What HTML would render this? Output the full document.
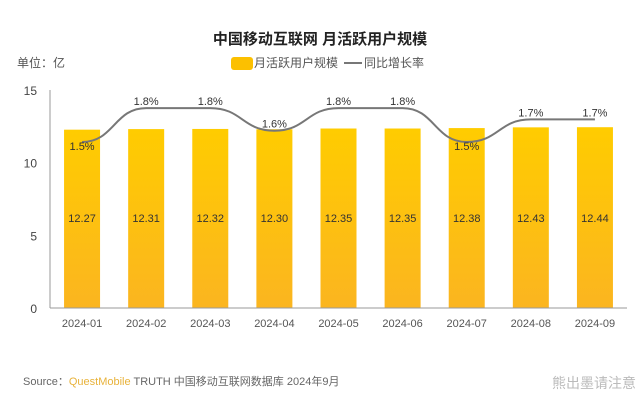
<!DOCTYPE html>
<html><head><meta charset="utf-8">
<style>
body{margin:0;background:#fff;width:640px;height:402px;overflow:hidden;font-family:"Liberation Sans","Noto Sans CJK SC",sans-serif;}
svg{display:block}
</style></head>
<body>
<svg id="chart" width="640" height="402" viewBox="0 0 640 402">
<defs>
<linearGradient id="bg" x1="0" y1="0" x2="0" y2="1">
<stop offset="0" stop-color="#ffcc00"/><stop offset="1" stop-color="#fbb520"/>
</linearGradient>
</defs>
<text x="320" y="44" text-anchor="middle" font-size="15" font-weight="bold" fill="#222" font-family="Liberation Sans, Noto Sans CJK SC, sans-serif">中国移动互联网 月活跃用户规模</text>
<text x="17" y="67" font-size="12" fill="#555" font-family="Liberation Sans, Noto Sans CJK SC, sans-serif">单位：亿</text>
<g>
<rect x="231" y="57" width="22" height="13" rx="3" fill="#fcc000"/>
<text x="254" y="67" font-size="12" fill="#555" font-family="Liberation Sans, Noto Sans CJK SC, sans-serif">月活跃用户规模</text>
<line x1="344" y1="63" x2="362" y2="63" stroke="#777" stroke-width="2"/>
<text x="364" y="67" font-size="12" fill="#555" font-family="Liberation Sans, Noto Sans CJK SC, sans-serif">同比增长率</text>
</g>
<g id="plot"></g>
<text x="23" y="385" font-size="11" fill="#666" font-family="Liberation Sans, Noto Sans CJK SC, sans-serif">Source：<tspan fill="#e8b23a">QuestMobile</tspan> TRUTH 中国移动互联网数据库 2024年9月</text>
<text x="636" y="388" text-anchor="end" font-size="14" fill="#bbb" font-family="Liberation Sans, Noto Sans CJK SC, sans-serif">熊出墨请注意</text>
</svg>
<script>
const categories=["2024-01","2024-02","2024-03","2024-04","2024-05","2024-06","2024-07","2024-08","2024-09"];
const mauValues=[12.27,12.31,12.32,12.30,12.35,12.35,12.38,12.43,12.44];
const growthValues=[1.5,1.8,1.8,1.6,1.8,1.8,1.5,1.7,1.7];
const growthLabels=["1.5%","1.8%","1.8%","1.6%","1.8%","1.8%","1.5%","1.7%","1.7%"];
const yTicks=[0,5,10,15];
const NS="http://www.w3.org/2000/svg";
const g=document.getElementById('plot');
const x0=50,x1=627,yBase=308,yTop=90,yMax=15;
const bw=(x1-x0)/categories.length;
const xc=i=>x0+bw*(i+0.5);
const y=v=>yBase-(v/yMax)*(yBase-yTop);
const yg=p=>142-(p-1.5)*113;
function mk(t,a){const e=document.createElementNS(NS,t);for(const k in a)e.setAttribute(k,a[k]);g.appendChild(e);return e;}
yTicks.forEach(t=>{const e=mk('text',{x:37,y:y(t)+5,'text-anchor':'end','font-size':12,fill:'#444'});e.textContent=t;

});
const ax=mk('line',{x1:x0,y1:yTop,x2:x0,y2:yBase,stroke:'#999','stroke-width':1});


categories.forEach((c,i)=>{
const b=mk('rect',{x:xc(i)-18,y:y(mauValues[i]),width:36,height:yBase-y(mauValues[i]),fill:'url(#bg)'});


const v=mk('text',{x:xc(i),y:222,'text-anchor':'middle','font-size':11,fill:'#333'});v.textContent=mauValues[i].toFixed(2);


const l=mk('text',{x:xc(i),y:yBase+19,'text-anchor':'middle','font-size':11,fill:'#555'});l.textContent=c;


});
const xa=mk('line',{x1:x0,y1:yBase,x2:x1,y2:yBase,stroke:'#999','stroke-width':1});


// smooth line
const pts=growthValues.map((p,i)=>[xc(i),yg(p)]);
let d='M'+pts[0][0]+','+pts[0][1];
for(let i=1;i<pts.length;i++){const [ax_,ay]=pts[i-1],[bx,by]=pts[i];const mx=(bx-ax_)/2;d+=` C${ax_+mx},${ay} ${bx-mx},${by} ${bx},${by}`;}
const ln=mk('path',{d:d,fill:'none',stroke:'#777','stroke-width':2});


growthValues.forEach((p,i)=>{
const below=(p<=1.5);
const t=mk('text',{x:xc(i),y:below?yg(p)+8:yg(p)-3,'text-anchor':'middle','font-size':11,fill:'#333'});t.textContent=growthLabels[i];


});
</script>
</body></html>
